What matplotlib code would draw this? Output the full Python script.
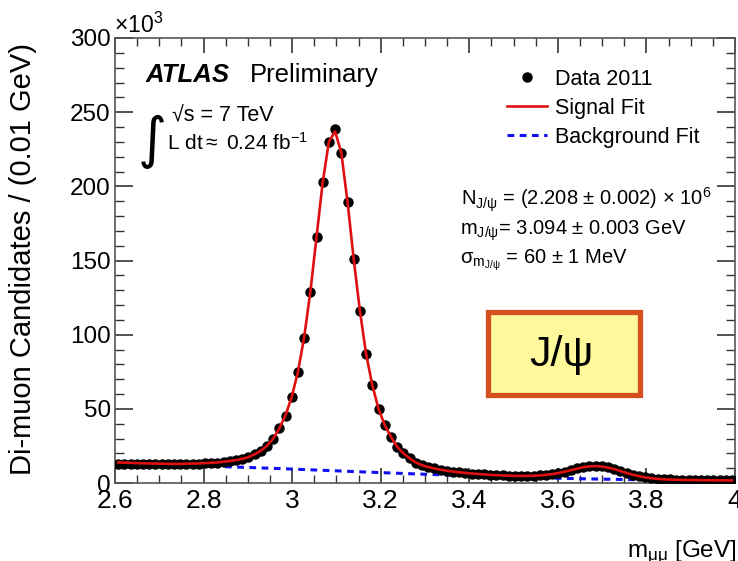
import numpy as np
import matplotlib
matplotlib.use("Agg")
from matplotlib import pyplot as plt
from matplotlib.patches import Rectangle, Circle
from matplotlib.lines import Line2D

plt.rcParams['font.family'] = ['Liberation Sans', 'DejaVu Sans']
plt.rcParams['mathtext.fontset'] = 'custom'
plt.rcParams['mathtext.rm'] = 'Liberation Sans'
plt.rcParams['mathtext.it'] = 'Liberation Sans:italic'
plt.rcParams['mathtext.bf'] = 'Liberation Sans:bold'

# histogram binning (GeV)
m_lo = 2.6
bin_w = 0.014

# di-muon candidates per bin, in units of 10^3
data_k = [13.0, 12.9, 12.9, 12.8, 12.8, 12.7, 12.7, 12.7, 12.7, 12.7,
          12.7, 12.8, 12.9, 13.0, 13.2, 13.5, 13.8, 14.2, 14.7, 15.3,
          16.0, 17.3, 19.3, 21.6, 24.9, 29.7, 36.9, 45.4, 58.0, 74.8,
          98.0, 128.6, 165.6, 202.7, 230.1, 238.4, 222.7, 189.6, 151.0, 116.1,
          87.0, 66.0, 50.0, 39.1, 31.2, 24.5, 20.0, 16.7, 13.7, 12.0,
          10.8, 9.8, 9.0, 8.3, 7.7, 7.2, 6.8, 6.4, 6.1, 5.8,
          5.5, 5.3, 5.1, 4.9, 4.8, 4.8, 4.8, 4.9, 5.1, 5.5,
          6.0, 6.7, 7.6, 8.7, 9.8, 10.8, 11.4, 11.6, 11.3, 10.6,
          9.5, 8.2, 6.9, 5.7, 4.7, 3.9, 3.3, 2.9, 2.6, 2.4,
          2.3, 2.2, 2.1, 2.1, 2.0, 2.0, 1.9, 1.9, 1.9, 1.8]

# signal + background fit at the bin centres (10^3)
fit_k = [13.9, 13.7, 13.6, 13.4, 13.3, 13.2, 13.1, 13.0, 12.9, 12.9,
         12.9, 13.0, 13.1, 13.2, 13.4, 13.6, 13.9, 14.3, 14.8, 15.4,
         16.2, 17.4, 19.3, 21.7, 25.0, 29.8, 36.8, 45.6, 58.0, 74.8,
         98.0, 128.6, 165.6, 202.7, 230.1, 237.0, 222.7, 189.6, 151.0, 116.1,
         87.0, 66.0, 50.0, 39.1, 31.2, 24.5, 20.0, 16.7, 13.9, 12.0,
         10.8, 9.8, 9.0, 8.3, 7.7, 7.2, 6.8, 6.4, 6.1, 5.8,
         5.5, 5.3, 5.1, 4.9, 4.8, 4.8, 4.8, 4.9, 5.1, 5.5,
         6.0, 6.7, 7.6, 8.6, 9.6, 10.6, 11.2, 11.4, 11.1, 10.4,
         9.4, 8.1, 6.8, 5.6, 4.6, 3.8, 3.2, 2.8, 2.5, 2.3,
         2.2, 2.1, 2.0, 2.0, 1.9, 1.9, 1.8, 1.8, 1.8, 1.7]

# background fit (10^3)
bkg_m = [2.6, 2.7, 2.8, 2.9, 3.0, 3.1, 3.2, 3.3, 3.4, 3.5, 3.6, 3.7, 3.8, 3.9, 4.0]
bkg_k = [12.9, 12.2, 11.4, 10.5, 9.4, 8.2, 7.0, 5.9, 4.9, 4.0, 3.2, 2.6, 2.1, 1.8, 1.6]

x_ticks = [2.6, 2.8, 3.0, 3.2, 3.4, 3.6, 3.8, 4.0]
y_ticks = [0, 50, 100, 150, 200, 250, 300]

centres = m_lo + bin_w * (np.arange(len(data_k)) + 0.5)

W, H = 738, 561
fig = plt.figure(figsize=(W / 100, H / 100), dpi=100)

def fx(px):
    return px / W

def fy(py):
    return 1 - py / H

ax = fig.add_axes([fx(115), fy(483), fx(735) - fx(115), fy(38) - fy(483)])

ax.plot(bkg_m, bkg_k, color='#1010f0', lw=2.2, ls=(0, (2.2, 1.8)), zorder=2)
ax.errorbar(centres, data_k, xerr=bin_w / 2, fmt='o', color='black', ms=6.5,
            elinewidth=1.6, capsize=0, zorder=3)
ax.plot(centres, fit_k, color='#e01010', lw=1.9, zorder=4)

ax.set_xlim(2.6, 4.0)
ax.set_ylim(0, 300)
ax.set_xticks(x_ticks)
ax.set_xticklabels(['%g' % t for t in x_ticks])
ax.set_yticks(y_ticks)
ax.set_xticks(np.arange(2.6, 4.001, 0.05), minor=True)
ax.set_yticks(np.arange(0, 301, 10), minor=True)
ax.tick_params(which='both', direction='in', top=True, right=True, color='#333333')
ax.tick_params(axis='x', which='major', length=11, width=1.2, labelsize=19, pad=4)
ax.tick_params(axis='x', which='minor', length=5.5, width=1.0)
ax.tick_params(axis='y', which='major', length=13, width=1.2, labelsize=17.5, pad=3)
ax.tick_params(axis='y', which='minor', length=6.5, width=1.0)
for s in ax.spines.values():
    s.set_color('#555555')
    s.set_linewidth(1.2)

# axis titles
fig.text(fx(23), fy(43), 'Di-muon Candidates / (0.01 GeV)', rotation=90,
         ha='center', va='top', fontsize=21)
fig.text(fx(737), fy(557), r'$\mathregular{m_{\mu\mu}}$ [GeV]', ha='right',
         va='baseline', fontsize=17.5)
fig.text(fx(114), fy(33), r'$\mathregular{\times10^{3}}$', ha='left',
         va='baseline', fontsize=16.5)

# ATLAS label
fig.text(fx(146), fy(82), 'ATLAS', fontsize=18.5, fontweight='bold',
         style='italic', va='baseline')
fig.text(fx(250), fy(82), 'Preliminary', fontsize=18.5, va='baseline')
fig.text(fx(138), fy(157), '\u222b', fontsize=40, va='baseline',
         family=['DejaVu Sans'])
fig.text(fx(172), fy(121), '\u221as = 7 TeV', fontsize=15.5, va='baseline')
fig.text(fx(167), fy(150), r'L dt$\approx$ 0.24 fb$^{\mathregular{-1}}$',
         fontsize=15, va='baseline')

# legend
handles = [Line2D([], [], ls='none', marker='o', color='black', ms=6.5),
           Line2D([], [], color='#e01010', lw=1.9),
           Line2D([], [], color='#1010f0', lw=2.2, ls=(0, (2.2, 1.8)))]
fig.legend(handles, ['Data 2011', 'Signal Fit', 'Background Fit'],
           loc='upper left', bbox_to_anchor=(fx(507), fy(69)),
           frameon=False, fontsize=15.5, handlelength=1.85, handletextpad=0.38,
           labelspacing=0.36, borderaxespad=0, borderpad=0)

# fit results
fig.text(fx(461), fy(206),
         r'$\mathregular{N_{J/\psi}}$ = (2.208 $\pm$ 0.002) $\times$ 10$^{\mathregular{6}}$',
         fontsize=14.5, va='baseline')
fig.text(fx(460), fy(235), r'$\mathregular{m_{J/\psi}}$= 3.094 $\pm$ 0.003 GeV',
         fontsize=14.5, va='baseline')
fig.text(fx(460), fy(263), r'$\mathregular{\sigma_{m_{J/\psi}}}$ = 60 $\pm$ 1 MeV',
         fontsize=14.5, va='baseline')

# J/psi box
fig.patches.append(Rectangle((fx(488), fy(395)), fx(640) - fx(488), fy(312) - fy(395),
                             transform=fig.transFigure, facecolor='#fff99c',
                             edgecolor='#d5501e', lw=3.8, zorder=5))
fig.text(fx(561), fy(355), 'J/\u03c8', fontsize=31, ha='center', va='center',
         zorder=6)

# slide decoration in the corner
fig.patches.append(Circle((fx(750), fy(640)), 92 / W, transform=fig.transFigure,
                          facecolor='#d8501c', edgecolor='none', zorder=5))

plt.savefig('out.png', dpi=100)
